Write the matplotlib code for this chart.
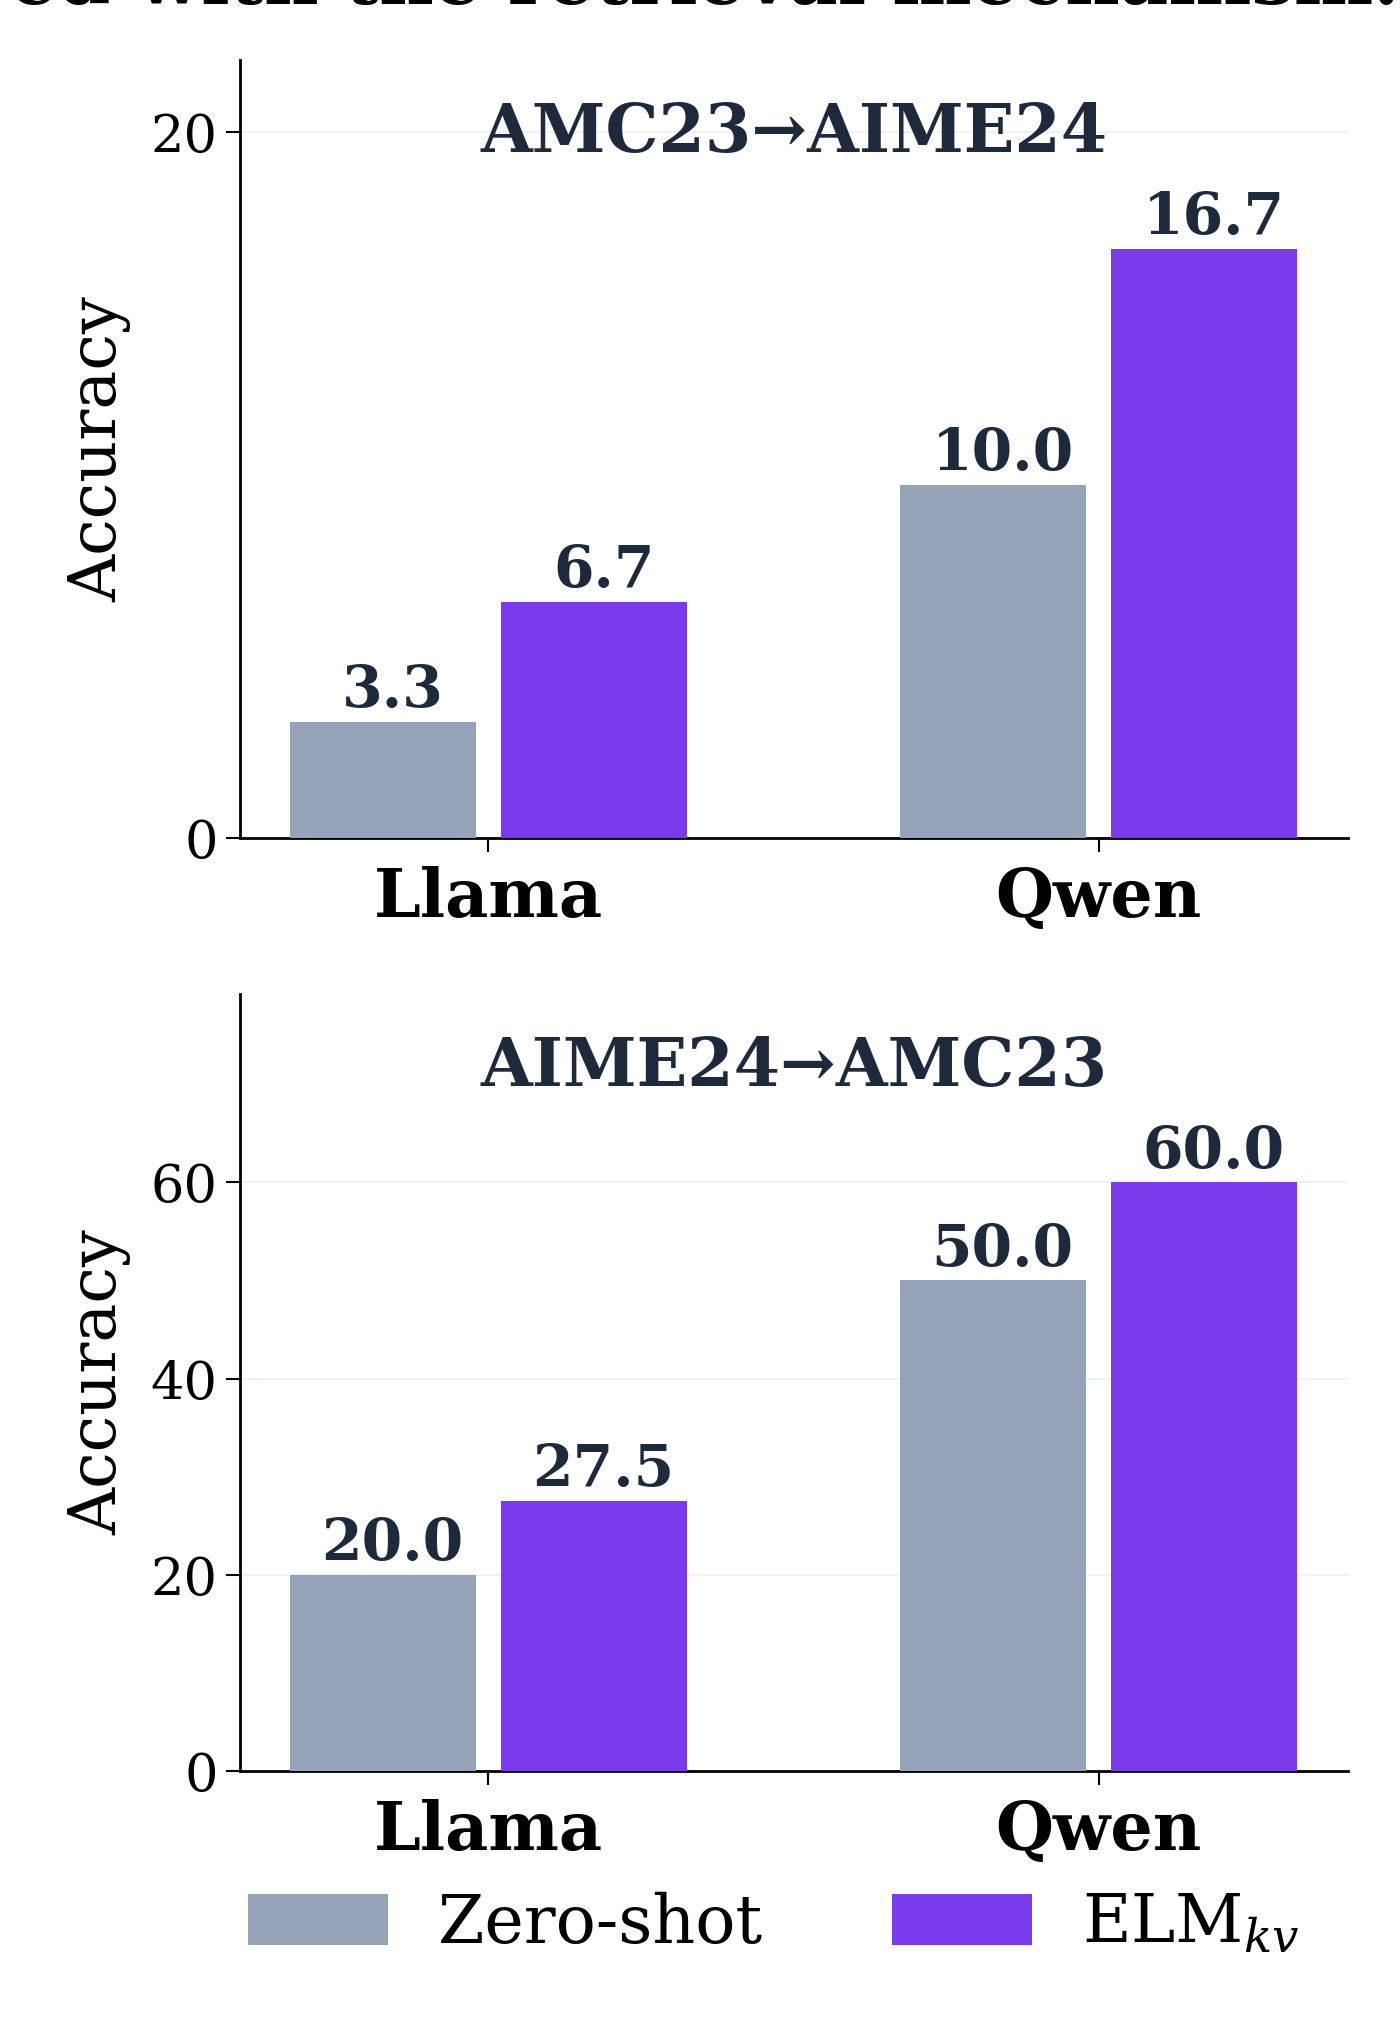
import matplotlib
matplotlib.use("Agg")
import matplotlib.pyplot as plt
import numpy as np

plt.rcParams['font.family'] = ['DejaVu Serif']
plt.rcParams['mathtext.fontset'] = 'dejavuserif'

models = ["Llama", "Qwen"]
series = ["Zero-shot", "ELM$_{kv}$"]
panel_titles = ["AMC23\u2192AIME24", "AIME24\u2192AMC23"]
zero_shot = [[3.3, 10.0], [20.0, 50.0]]
elm_kv = [[6.7, 16.7], [27.5, 60.0]]
y_ticks = [[0, 20], [0, 20, 40, 60]]

gray = "#94a3b8"
purple = "#7c3aed"
dark = "#1e293b"

fig = plt.figure(figsize=(14, 20.38), dpi=100)
axes = [fig.add_axes([0.1714, 0.5888, 0.7916, 0.3818]),
        fig.add_axes([0.1714, 0.1310, 0.7916, 0.3813])]

# caption line cut off by the crop at the top
fig.text(1.0, 1.008, "ed with the retrieval mechanism.", ha="right", va="center",
         fontsize=54, fontweight="bold", color="black")

x = np.arange(len(models))
w = 0.305
off = 0.173
for i, ax in enumerate(axes):
    b1 = ax.bar(x - off, zero_shot[i], w, color=gray, label=series[0], zorder=3)
    b2 = ax.bar(x + off, elm_kv[i], w, color=purple, label=series[1], zorder=3)
    for bars in (b1, b2):
        for b in bars:
            ax.annotate(f"{b.get_height():.1f}", (b.get_x() + b.get_width() / 2, b.get_height()),
                        xytext=(7, 2), textcoords="offset points", ha="center", va="bottom",
                        fontsize=42, fontweight="bold", color=dark, zorder=4)
    top = max(max(zero_shot[i]), max(elm_kv[i])) * 1.32
    ax.set_ylim(0, top)
    ax.set_xlim(-0.407, 1.409)
    ax.set_yticks(y_ticks[i])
    ax.set_xticks(x)
    ax.set_xticklabels(models, fontsize=48, fontweight="bold")
    ax.tick_params(axis="y", labelsize=38, length=10, width=1.5, pad=6)
    ax.tick_params(axis="x", length=10, width=1.5, pad=10)
    ax.yaxis.grid(True, color="#eef1f6", lw=1.5, zorder=0)
    ax.set_axisbelow(True)
    ax.spines["top"].set_visible(False)
    ax.spines["right"].set_visible(False)
    ax.spines["left"].set_linewidth(2)
    ax.spines["bottom"].set_linewidth(2)
    ax.set_ylabel("Accuracy", fontsize=47, labelpad=14)
    ax.text(0.5, 0.905, panel_titles[i], transform=ax.transAxes, ha="center", va="center",
            fontsize=48, fontweight="bold", color=dark)

handles, labels = axes[1].get_legend_handles_labels()
fig.legend(handles, labels, loc="center", bbox_to_anchor=(0.553, 0.056), ncol=2,
           frameon=False, fontsize=48, handlelength=2.1, handleheight=0.8,
           columnspacing=1.95, handletextpad=0.75)

fig.savefig("out.png", dpi=100)
